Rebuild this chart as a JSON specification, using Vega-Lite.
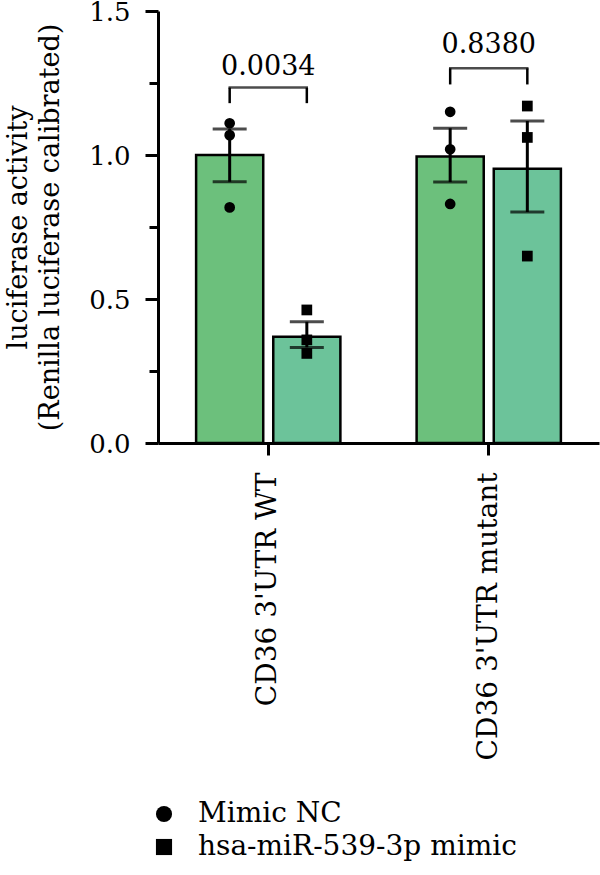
{
  "$schema": "https://vega.github.io/schema/vega-lite/v6.json",
  "width": 441,
  "height": 432,
  "autosize": {"type": "none"},
  "padding": {"left": 158, "top": 11, "right": 1, "bottom": 432},
  "background": "white",
  "config": {
    "view": {"stroke": null},
    "font": "DejaVu Serif",
    "axis": {"labelFont": "DejaVu Serif", "titleFont": "DejaVu Serif", "labelColor": "black", "titleColor": "black", "domainColor": "black", "tickColor": "black", "labelFontSize": 27, "titleFontSize": 27, "titleFontWeight": "normal", "grid": false, "domainWidth": 3, "tickWidth": 3, "labelLimit": 0},
    "legend": {"labelFont": "DejaVu Serif", "labelFontSize": 28, "labelColor": "black", "labelLimit": 0}
  },
  "datasets": {
    "summary": [
      {"construct": "CD36 3'UTR WT", "treatment": "Mimic NC", "mean": 1.0, "lo": 0.907, "hi": 1.09},
      {"construct": "CD36 3'UTR WT", "treatment": "hsa-miR-539-3p mimic", "mean": 0.369, "lo": 0.332, "hi": 0.421},
      {"construct": "CD36 3'UTR mutant", "treatment": "Mimic NC", "mean": 0.995, "lo": 0.906, "hi": 1.093},
      {"construct": "CD36 3'UTR mutant", "treatment": "hsa-miR-539-3p mimic", "mean": 0.952, "lo": 0.802, "hi": 1.118}
    ],
    "points": [
      {"construct": "CD36 3'UTR WT", "treatment": "Mimic NC", "value": 1.11},
      {"construct": "CD36 3'UTR WT", "treatment": "Mimic NC", "value": 1.069},
      {"construct": "CD36 3'UTR WT", "treatment": "Mimic NC", "value": 0.818},
      {"construct": "CD36 3'UTR WT", "treatment": "hsa-miR-539-3p mimic", "value": 0.462},
      {"construct": "CD36 3'UTR WT", "treatment": "hsa-miR-539-3p mimic", "value": 0.358},
      {"construct": "CD36 3'UTR WT", "treatment": "hsa-miR-539-3p mimic", "value": 0.311},
      {"construct": "CD36 3'UTR mutant", "treatment": "Mimic NC", "value": 1.15},
      {"construct": "CD36 3'UTR mutant", "treatment": "Mimic NC", "value": 1.02},
      {"construct": "CD36 3'UTR mutant", "treatment": "Mimic NC", "value": 0.83},
      {"construct": "CD36 3'UTR mutant", "treatment": "hsa-miR-539-3p mimic", "value": 1.17},
      {"construct": "CD36 3'UTR mutant", "treatment": "hsa-miR-539-3p mimic", "value": 1.061},
      {"construct": "CD36 3'UTR mutant", "treatment": "hsa-miR-539-3p mimic", "value": 0.649}
    ],
    "legs": [
      {"construct": "CD36 3'UTR WT", "treatment": "Mimic NC", "bottom": 1.18, "top": 1.234},
      {"construct": "CD36 3'UTR WT", "treatment": "hsa-miR-539-3p mimic", "bottom": 1.18, "top": 1.234},
      {"construct": "CD36 3'UTR mutant", "treatment": "Mimic NC", "bottom": 1.245, "top": 1.301},
      {"construct": "CD36 3'UTR mutant", "treatment": "hsa-miR-539-3p mimic", "bottom": 1.245, "top": 1.301}
    ],
    "pvals": [
      {"construct": "CD36 3'UTR WT", "label": "0.0034", "level": 1.234, "texty": 1.278},
      {"construct": "CD36 3'UTR mutant", "label": "0.8380", "level": 1.301, "texty": 1.354}
    ]
  },
  "encoding": {
    "x": {
      "field": "construct", "type": "nominal",
      "scale": {"domain": ["CD36 3'UTR WT", "CD36 3'UTR mutant"], "paddingInner": 0, "paddingOuter": 0},
      "axis": {"title": null, "labelAngle": -90, "labelAlign": "right", "labelBaseline": "middle", "tickSize": 12, "labelPadding": 17, "labelFontSize": 28}
    }
  },
  "layer": [
    {
      "data": {"name": "summary"},
      "mark": {"type": "bar", "stroke": "black", "strokeWidth": 2.5},
      "encoding": {
        "xOffset": {"field": "treatment", "type": "nominal", "scale": {"domain": ["Mimic NC", "hsa-miR-539-3p mimic"], "paddingInner": 0.13, "paddingOuter": 0.494}},
        "y": {
          "field": "mean", "type": "quantitative",
          "scale": {"domain": [0, 1.5], "nice": false},
          "axis": {
            "title": ["luciferase activity", "(Renilla luciferase calibrated)"],
            "titleLineHeight": 32,
            "titlePadding": 24,
            "values": [0, 0.25, 0.5, 0.75, 1, 1.25, 1.5],
            "labelExpr": "datum.value % 0.5 === 0 ? format(datum.value, '.1f') : ''",
            "tickSize": {"condition": {"test": "datum.value % 0.5 !== 0", "value": 9}, "value": 13},
            "labelPadding": 15,
            "labelFontSize": 26,
            "labelOffset": 1
          }
        },
        "fill": {"condition": {"test": "datum.treatment === 'Mimic NC'", "value": "#6CC07C"}, "value": "#6CC39A"}
      }
    },
    {
      "data": {"name": "summary"},
      "mark": {"type": "rule", "color": "black", "strokeWidth": 3},
      "encoding": {
        "xOffset": {"field": "treatment", "type": "nominal"},
        "y": {"field": "lo", "type": "quantitative"},
        "y2": {"field": "hi"}
      }
    },
    {
      "data": {"name": "summary"},
      "mark": {"type": "tick", "color": "black", "thickness": 3, "size": 34},
      "encoding": {
        "xOffset": {"field": "treatment", "type": "nominal"},
        "y": {"field": "hi", "type": "quantitative"}
      }
    },
    {
      "data": {"name": "summary"},
      "mark": {"type": "tick", "color": "black", "thickness": 3, "size": 34},
      "encoding": {
        "xOffset": {"field": "treatment", "type": "nominal"},
        "y": {"field": "lo", "type": "quantitative"}
      }
    },
    {
      "data": {"name": "points"},
      "mark": {"type": "point", "filled": true, "color": "black", "opacity": 1, "size": 115},
      "encoding": {
        "xOffset": {"field": "treatment", "type": "nominal"},
        "y": {"field": "value", "type": "quantitative"},
        "shape": {
          "field": "treatment", "type": "nominal",
          "scale": {"domain": ["Mimic NC", "hsa-miR-539-3p mimic"], "range": ["circle", "square"]},
          "legend": {"title": null, "orient": "none", "legendX": -8, "legendY": 789, "direction": "vertical", "symbolSize": 260, "labelOffset": 20, "rowPadding": 5, "padding": 0, "symbolFillColor": "black", "symbolStrokeColor": "black"}
        }
      }
    },
    {
      "data": {"name": "legs"},
      "mark": {"type": "rule", "color": "black", "strokeWidth": 2.5},
      "encoding": {
        "xOffset": {"field": "treatment", "type": "nominal"},
        "y": {"field": "bottom", "type": "quantitative"},
        "y2": {"field": "top"}
      }
    },
    {
      "data": {"name": "pvals"},
      "mark": {"type": "tick", "color": "black", "thickness": 2.5, "size": 79.5},
      "encoding": {
        "y": {"field": "level", "type": "quantitative"}
      }
    },
    {
      "data": {"name": "pvals"},
      "mark": {"type": "text", "color": "black", "fontSize": 27, "font": "DejaVu Serif", "baseline": "alphabetic", "align": "center"},
      "encoding": {
        "y": {"field": "texty", "type": "quantitative"},
        "text": {"field": "label"}
      }
    }
  ]
}
